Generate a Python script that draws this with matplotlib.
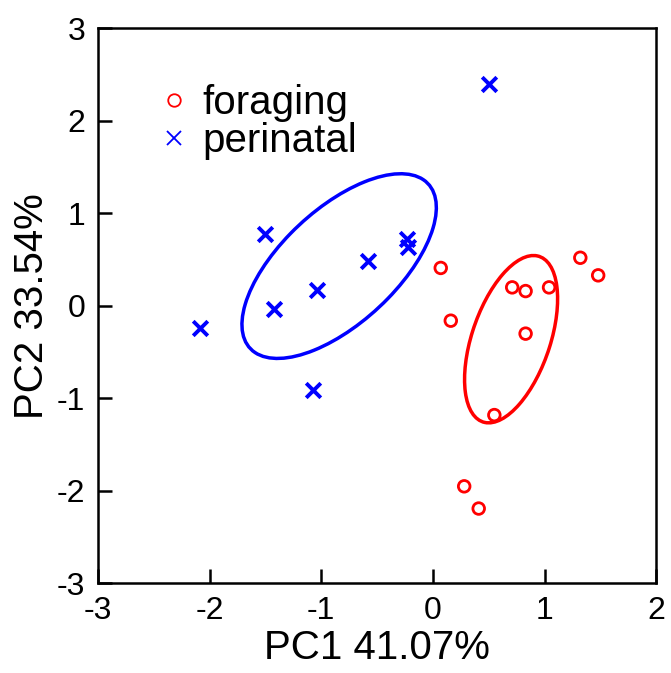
import matplotlib.pyplot as plt
from matplotlib.patches import Ellipse
from matplotlib.lines import Line2D

plt.rcParams['font.family'] = ['Liberation Sans', 'DejaVu Sans']
plt.rcParams['axes.unicode_minus'] = False

# PCA scores
foraging_pc1 = [0.07, 0.16, 0.71, 0.83, 1.04, 1.32, 1.48, 0.83, 0.55, 0.28, 0.41]
foraging_pc2 = [0.41, -0.16, 0.20, 0.16, 0.20, 0.52, 0.33, -0.30, -1.18, -1.95, -2.19]

perinatal_pc1 = [0.50, -1.50, -2.09, -1.42, -1.04, -0.58, -0.23, -0.22, -1.07]
perinatal_pc2 = [2.40, 0.78, -0.24, -0.03, 0.17, 0.49, 0.72, 0.64, -0.91]

# ellipses: center, width, height, angle (data units)
ell_perinatal = (-0.84, 0.43, 2.40, 1.12, 51.1)
ell_foraging = (0.70, -0.36, 1.86, 0.71, 75.3)

fig = plt.figure(figsize=(6.71, 6.73), dpi=100)
ax = fig.add_axes([0.146, 0.133, 0.832, 0.825])

ax.scatter(foraging_pc1, foraging_pc2, s=70, facecolors='none',
           edgecolors='red', linewidths=2, marker='o', zorder=3)
ax.scatter(perinatal_pc1, perinatal_pc2, s=110, c='blue',
           linewidths=2.8, marker='x', zorder=3)

for (cx, cy, w, h, ang), col in [(ell_perinatal, 'blue'), (ell_foraging, 'red')]:
    ax.add_patch(Ellipse((cx, cy), w, h, angle=ang, fill=False,
                         edgecolor=col, linewidth=2.5))

ax.set_xlim(-3, 2)
ax.set_ylim(-3, 3)
ax.set_xticks([-3, -2, -1, 0, 1, 2])
ax.set_yticks([-3, -2, -1, 0, 1, 2, 3])
ax.tick_params(direction='in', length=10, width=1.8, labelsize=23, pad=9,
               top=False, right=False)
for s in ax.spines.values():
    s.set_linewidth(1.8)

ax.set_xlabel('PC1 41.07%', fontsize=29, labelpad=2)
ax.set_ylabel('PC2 33.54%', fontsize=29, labelpad=4)

handles = [
    Line2D([], [], linestyle='none', marker='o', markersize=9,
           markerfacecolor='none', markeredgecolor='red', markeredgewidth=1.3),
    Line2D([], [], linestyle='none', marker='x', markersize=10,
           color='blue', markeredgewidth=1.3),
]
ax.legend(handles, ['foraging', 'perinatal'], loc='upper left',
          bbox_to_anchor=(0.05, 0.95), frameon=False, fontsize=29,
          handletextpad=0.2, handlelength=1.0, labelspacing=0.0,
          borderpad=0.2)

fig.savefig('out.png', dpi=100)
